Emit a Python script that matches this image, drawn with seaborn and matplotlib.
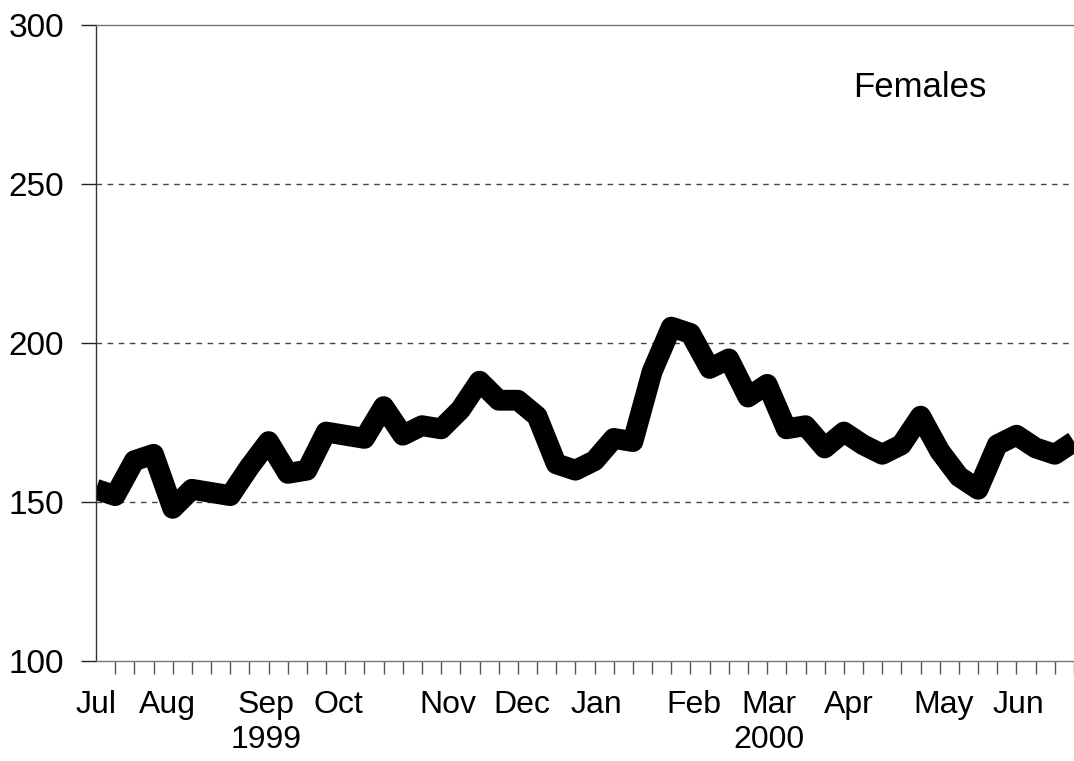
import numpy as np
import pandas as pd
import matplotlib
matplotlib.use("Agg")
import matplotlib.pyplot as plt
import seaborn as sns

# Weekly values, Jul 1999 - Jun 2000 (Females)
weeks = list(range(52))
females = [154, 152, 163, 165, 148, 154, 153, 152, 161, 169,
           159, 160, 172, 171, 170, 180, 171, 174, 173, 179,
           188, 182, 182, 177, 162, 160, 163, 170, 169, 191,
           205, 203, 192, 195, 183, 187, 173, 174, 167, 172,
           168, 165, 168, 177, 166, 158, 154, 168, 171, 167,
           165, 169]

month_labels = ["Jul", "Aug", "Sep\n1999", "Oct", "Nov", "Dec", "Jan",
                "Feb", "Mar\n2000", "Apr", "May", "Jun"]
month_pos = [0.0, 3.75, 8.86, 12.62, 18.35, 22.2, 26.1, 31.2, 35.1, 39.25, 44.2, 48.1]
y_ticks = [100, 150, 200, 250, 300]
series_label = "Females"

df = pd.DataFrame({"week": weeks, "value": females})

sns.set_style("white")
plt.rcParams["font.family"] = ["Liberation Sans", "DejaVu Sans"]
plt.rcParams["text.color"] = "black"
plt.rcParams["xtick.color"] = "black"
plt.rcParams["ytick.color"] = "black"

fig = plt.figure(figsize=(10.74, 7.61), dpi=100)
ax = fig.add_axes([96 / 1074, 1 - 661 / 761, 1 - 96 / 1074, (661 - 25) / 761])

sns.lineplot(data=df, x="week", y="value", ax=ax, color="black",
             linewidth=15, solid_joinstyle="round", solid_capstyle="butt")

ax.set_xlim(0, 51)
ax.set_ylim(100, 300)
ax.set_yticks(y_ticks)
ax.set_yticklabels([str(v) for v in y_ticks], fontsize=24)
ax.set_xticks(month_pos)
ax.set_xticklabels(month_labels, fontsize=23, linespacing=1.2)
ax.set_xticks(weeks, minor=True)
ax.tick_params(axis="x", which="major", length=0, pad=21, labelcolor="black")
ax.tick_params(axis="x", which="minor", bottom=True, direction="out", length=9,
               width=1, color="#555555")
ax.tick_params(axis="y", which="major", direction="out", length=11,
               width=1, color="#222222", pad=12, left=True, labelcolor="black")
ax.set_xlabel("")
ax.set_ylabel("")

for y in [150, 200, 250]:
    ax.axhline(y, color="#444444", linestyle=(0, (4, 4)), linewidth=1, zorder=0)

for side in ["left", "top", "bottom"]:
    ax.spines[side].set_visible(True)
    ax.spines[side].set_linewidth(1)
ax.spines["left"].set_color("#333333")
ax.spines["top"].set_color("#777777")
ax.spines["bottom"].set_color("#777777")
ax.spines["right"].set_visible(False)

ax.text(0.842, 0.902, series_label, transform=ax.transAxes, fontsize=25,
        ha="center", va="center", color="black")

fig.savefig("out.png", dpi=100)
